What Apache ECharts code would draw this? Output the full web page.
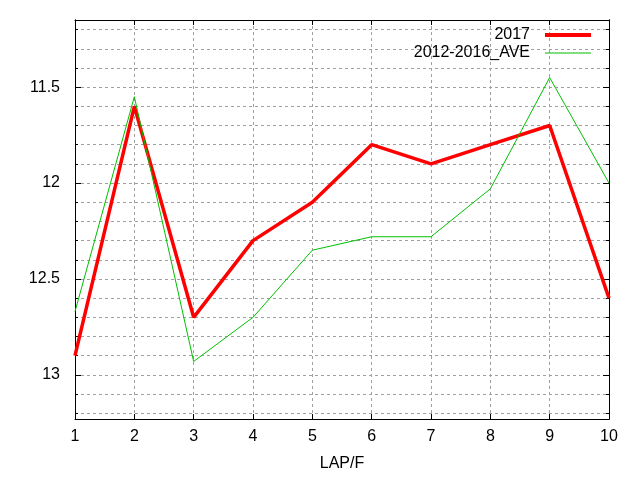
<!DOCTYPE html>
<html>
<head>
<meta charset="utf-8">
<script src="https://cdn.jsdelivr.net/npm/echarts@6/dist/echarts.min.js"></script>
<style>html,body{margin:0;padding:0;background:#fff}#c{width:640px;height:480px}</style>
</head>
<body>
<div id="c"></div>
<script>
var laps = [1, 2, 3, 4, 5, 6, 7, 8, 9, 10];
var s2017 = [12.90, 11.60, 12.70, 12.30, 12.10, 11.80, 11.90, 11.80, 11.70, 12.60];
var sAve = [12.67, 11.55, 12.93, 12.70, 12.35, 12.28, 12.28, 12.03, 11.45, 12.00];
var yMajor = [11.5, 12, 12.5, 13];
var yMinor = [11.2, 11.3, 11.4, 11.5, 11.6, 11.7, 11.8, 11.9, 12.0, 12.1, 12.2, 12.3, 12.4, 12.5, 12.6, 12.7, 12.8, 12.9, 13.0, 13.1, 13.2];
var yMin = 11.15, yMax = 13.23;
var xMin = 1, xMax = 10;

var FONT = 'Liberation Sans';
var FS = 16;
function pairs(xs, ys) { return xs.map(function (x, i) { return [x, ys[i]]; }); }

var gridStyle = { show: true, lineStyle: { color: '#a0a0a0', type: [3, 3], width: 1 } };
var axisLine = { show: true, onZero: false, lineStyle: { color: '#000', width: 1 } };

function yAx(pos, minor, labels) {
  return {
    type: 'value', position: pos, inverse: true, min: yMin, max: yMax,
    axisLine: axisLine,
    axisTick: { show: true, inside: true, length: minor ? 3 : 6, customValues: minor ? yMinor : yMajor, lineStyle: { color: '#000' } },
    axisLabel: labels ? { show: true, customValues: yMajor, margin: 15, color: '#000', fontFamily: FONT, fontSize: FS, formatter: function (v) { return String(v); } } : { show: false },
    splitLine: (minor && pos === 'left') ? gridStyle : { show: false }
  };
}

var option = {
  animation: false,
  backgroundColor: '#fff',
  grid: { left: 75, right: 31, top: 20, bottom: 61, containLabel: false },
  xAxis: [
    {
      type: 'value', position: 'bottom', min: xMin, max: xMax, interval: 1,
      name: 'LAP/F', nameLocation: 'middle', nameGap: 37,
      nameTextStyle: { color: '#000', fontFamily: FONT, fontSize: FS },
      axisLine: axisLine,
      axisTick: { show: true, inside: true, length: 5, lineStyle: { color: '#000' } },
      axisLabel: { color: '#000', fontFamily: FONT, fontSize: FS, margin: 10 },
      splitLine: gridStyle
    },
    {
      type: 'value', position: 'top', min: xMin, max: xMax, interval: 1,
      axisLine: axisLine,
      axisTick: { show: true, inside: true, length: 5, lineStyle: { color: '#000' } },
      axisLabel: { show: false },
      splitLine: { show: false }
    }
  ],
  yAxis: [
    yAx('left', true, false),
    yAx('left', false, true),
    yAx('right', true, false),
    yAx('right', false, false)
  ],
  legend: [
    {
      data: ['2017'], orient: 'vertical', align: 'right', right: 49, top: 27, padding: 0,
      icon: 'rect', itemWidth: 46, itemHeight: 4,
      textStyle: { color: '#000', fontFamily: FONT, fontSize: FS, padding: [0, 10, 0, 0] }
    },
    {
      data: ['2012-2016_AVE'], orient: 'vertical', align: 'right', right: 49, top: 45, padding: 0,
      icon: 'rect', itemWidth: 46, itemHeight: 1,
      textStyle: { color: '#000', fontFamily: FONT, fontSize: FS, padding: [0, 10, 0, 0] }
    }
  ],
  series: [
    {
      name: '2017', type: 'line', xAxisIndex: 0, yAxisIndex: 0,
      data: pairs(laps, s2017), symbol: 'none',
      lineStyle: { color: '#ff0000', width: 3.5 }, itemStyle: { color: '#ff0000' }, z: 3
    },
    {
      name: '2012-2016_AVE', type: 'line', xAxisIndex: 0, yAxisIndex: 0,
      data: pairs(laps, sAve), symbol: 'none',
      lineStyle: { color: '#00c000', width: 1 }, itemStyle: { color: '#00c000' }, z: 4
    }
  ]
};
var chart = echarts.init(document.getElementById('c'), null, { renderer: 'canvas' });
chart.setOption(option);
</script>
</body>
</html>
